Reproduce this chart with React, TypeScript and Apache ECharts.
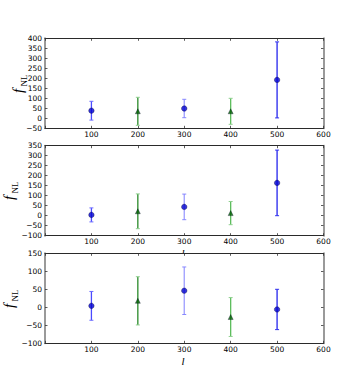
import React, { useEffect, useRef } from "react";
import * as echarts from "echarts";

const xPositions = [100, 200, 300, 400, 500];
const xTicks = [0, 100, 200, 300, 400, 500, 600];

const panel1Values = [38, 35, 49, 35, 192];
const panel1Errors = [47, 70, 46, 65, 190];
const panel2Values = [4, 22, 44, 13, 164];
const panel2Errors = [35, 87, 64, 58, 164];
const panel3Values = [4, 18, 46, -27, -6];
const panel3Errors = [40, 67, 66, 54, 56];

const panel1YTicks = [-50, 0, 50, 100, 150, 200, 250, 300, 350, 400];
const panel2YTicks = [-100, -50, 0, 50, 100, 150, 200, 250, 300, 350];
const panel3YTicks = [-100, -50, 0, 50, 100, 150];

const panels = [
  { values: panel1Values, errors: panel1Errors, yTicks: panel1YTicks },
  { values: panel2Values, errors: panel2Errors, yTicks: panel2YTicks },
  { values: panel3Values, errors: panel3Errors, yTicks: panel3YTicks },
];

// styles (not data)
const gridTops = [38.3, 145.7, 253.3];
const gridHeight = 90;
const gridLeft = 45;
const gridRight = 36.5;
const markerShapes = ["circle", "triangle", "circle", "triangle", "circle"];
const markerColors = ["#0000d0", "#006000", "#0000d0", "#006000", "#0000d0"];
const barColors = ["#4a4aff", "#2a8a2a", "#9c9cff", "#5cbc5c", "#2424ee"];
const capColors = ["#6a6aff", "#8fd08f", "#8888ff", "#8fd08f", "#3030ee"];
const yNamePos = [
  { x: 25, cy: 83 },
  { x: 16, cy: 190 },
  { x: 16, cy: 298 },
];

const tickFont = "DejaVu Sans";
const fmt = (v: number) => String(v).replace("-", "\u2212");

export default function App() {
  const ref = useRef<HTMLDivElement>(null);
  useEffect(() => {
    if (!ref.current) return;
    const chart = echarts.init(ref.current, null, { renderer: "svg" });
    const grids: any[] = [];
    const xAxes: any[] = [];
    const yAxes: any[] = [];
    const series: any[] = [];
    const graphic: any[] = [];

    panels.forEach((p, i) => {
      grids.push({
        left: gridLeft,
        right: gridRight,
        top: gridTops[i],
        height: gridHeight,
        containLabel: false,
      });
      const xMin = xTicks[0];
      const xMax = xTicks[xTicks.length - 1];
      const yMin = p.yTicks[0];
      const yMax = p.yTicks[p.yTicks.length - 1];
      const hLine = { show: true, onZero: false, lineStyle: { color: "#2a2a2a", width: 1 } };
      const vLine = { show: true, onZero: false, lineStyle: { color: "#9a9a9a", width: 2 } };
      const tick = { show: true, inside: true, length: 2.5, lineStyle: { color: "#333", width: 0.8 } };
      xAxes.push({
        type: "value",
        gridIndex: i,
        position: "bottom",
        min: xMin,
        max: xMax,
        interval: 100,
        axisLine: hLine,
        axisTick: tick,
        splitLine: { show: false },
        axisLabel: {
          show: true,
          margin: 2,
          fontFamily: tickFont,
          fontSize: 7.5,
          color: "#000",
          formatter: (v: number) => (v === 0 ? "" : fmt(v)),
        },
      });
      xAxes.push({
        type: "value",
        gridIndex: i,
        position: "top",
        min: xMin,
        max: xMax,
        interval: 100,
        axisLine: hLine,
        axisTick: tick,
        splitLine: { show: false },
        axisLabel: { show: false },
      });
      yAxes.push({
        type: "value",
        gridIndex: i,
        position: "left",
        min: yMin,
        max: yMax,
        interval: 50,
        axisLine: vLine,
        axisTick: tick,
        splitLine: { show: false },
        axisLabel: {
          show: true,
          margin: 3,
          fontFamily: tickFont,
          fontSize: 7.5,
          color: "#000",
          formatter: (v: number) => fmt(v),
        },
      });
      yAxes.push({
        type: "value",
        gridIndex: i,
        position: "right",
        min: yMin,
        max: yMax,
        interval: 50,
        axisLine: vLine,
        axisTick: tick,
        splitLine: { show: false },
        axisLabel: { show: false },
      });

      const xi = i * 2;
      series.push({
        type: "custom",
        xAxisIndex: xi,
        yAxisIndex: xi,
        data: xPositions.map((x, k) => [x, p.values[k], p.errors[k]]),
        renderItem: (params: any, api: any) => {
          const x = api.value(0);
          const v = api.value(1);
          const e = api.value(2);
          const top = api.coord([x, v + e]);
          const bot = api.coord([x, v - e]);
          const k = params.dataIndex;
          const cw = 2;
          return {
            type: "group",
            children: [
              {
                type: "line",
                shape: { x1: top[0], y1: top[1], x2: bot[0], y2: bot[1] },
                style: { stroke: barColors[k], lineWidth: 1.3 },
              },
              {
                type: "line",
                shape: { x1: top[0] - cw, y1: top[1], x2: top[0] + cw, y2: top[1] },
                style: { stroke: capColors[k], lineWidth: 1 },
              },
              {
                type: "line",
                shape: { x1: bot[0] - cw, y1: bot[1], x2: bot[0] + cw, y2: bot[1] },
                style: { stroke: capColors[k], lineWidth: 1 },
              },
            ],
          };
        },
        z: 3,
      });
      series.push({
        type: "scatter",
        xAxisIndex: xi,
        yAxisIndex: xi,
        data: xPositions.map((x, k) => ({
          value: [x, p.values[k]],
          symbol: markerShapes[k],
          symbolSize: markerShapes[k] === "circle" ? 5.5 : 5,
          itemStyle: { color: markerColors[k], borderColor: "#000022", borderWidth: 0.4 },
        })),
        z: 4,
      });

      const yn = yNamePos[i];
      graphic.push({
        type: "group",
        x: yn.x,
        y: yn.cy + 10,
        rotation: Math.PI / 2,
        children: [
          {
            type: "text",
            x: 0,
            y: 0,
            style: {
              text: "f",
              font: "italic 15px 'Liberation Serif'",
              fill: "#000",
              textAlign: "left",
              textVerticalAlign: "bottom",
            },
          },
          {
            type: "text",
            x: 6.5,
            y: 3,
            style: {
              text: "NL",
              font: "9px 'Liberation Serif'",
              fill: "#000",
              textAlign: "left",
              textVerticalAlign: "bottom",
            },
          },
        ],
      });
    });

    // x-axis labels "l"
    graphic.push({
      type: "text",
      x: 183,
      y: 355.5,
      z: -2,
      style: {
        text: "l",
        font: "italic 11px 'Liberation Serif'",
        fill: "#000",
        textAlign: "center",
        textVerticalAlign: "top",
      },
    });
    graphic.push({
      type: "text",
      x: 183,
      y: 247.5,
      z: -2,
      style: {
        text: "l",
        font: "italic 11px 'Liberation Serif'",
        fill: "#000",
        textAlign: "center",
        textVerticalAlign: "top",
      },
    });
    graphic.push({
      type: "rect",
      z: -1,
      shape: { x: 176, y: 254, width: 16, height: 8 },
      style: { fill: "#fff" },
    });

    chart.setOption({
      animation: false,
      backgroundColor: "#fff",
      grid: grids,
      xAxis: xAxes,
      yAxis: yAxes,
      series,
      graphic,
    });
    return () => chart.dispose();
  }, []);
  return (
    <div
      ref={ref}
      style={{ position: "fixed", left: 0, top: 0, width: 360, height: 382 }}
    />
  );
}
